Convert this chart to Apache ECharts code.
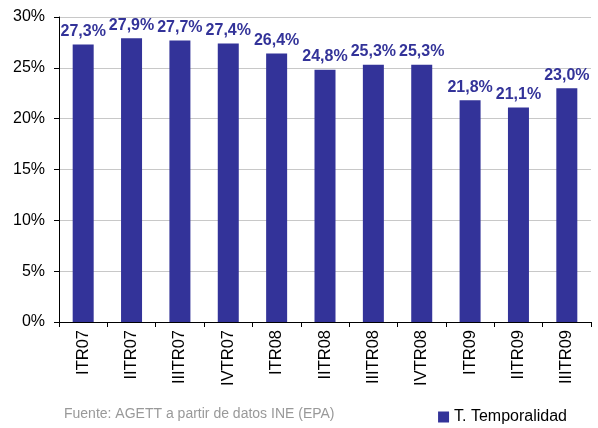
<!DOCTYPE html>
<html style="height: 100%">
<head>
    <meta charset="utf-8">
</head>
<body style="height: 100%; margin: 0; background: #fff">
<div id="container" style="width:598px;height:428px"></div>
<script type="text/javascript" src="https://cdn.jsdelivr.net/npm/echarts@6/dist/echarts.min.js"></script>
<script type="text/javascript">
    var categories = ['ITR07', 'IITR07', 'IIITR07', 'IVTR07', 'ITR08', 'IITR08', 'IIITR08', 'IVTR08', 'ITR09', 'IITR09', 'IIITR09'];
    var temporalidad = [27.3, 27.9, 27.7, 27.4, 26.4, 24.8, 25.3, 25.3, 21.8, 21.1, 23.0];
    var yTicks = [0, 5, 10, 15, 20, 25, 30];

    var dom = document.getElementById("container");
    var myChart = echarts.init(dom);
    var font = "'Liberation Sans', Arial, sans-serif";

    var option = {
        animation: false,
        textStyle: {fontFamily: font},
        grid: {left: 59, right: 7, top: 17, bottom: 106},
        legend: {
            data: [{name: 'T. Temporalidad', icon: 'rect'}],
            right: 26,
            top: 404,
            itemWidth: 11,
            itemHeight: 11,
            itemGap: 4,
            textStyle: {fontSize: 16, color: '#000', fontFamily: font}
        },
        graphic: [{
            type: 'text',
            left: 64,
            top: 407,
            style: {
                text: 'Fuente: AGETT a partir de datos INE (EPA)',
                fontSize: 14,
                fill: '#999999',
                fontFamily: font
            }
        }],
        xAxis: {
            type: 'category',
            data: categories,
            axisLine: {lineStyle: {color: '#000', width: 1}},
            axisTick: {show: true, length: 5, lineStyle: {color: '#000'}},
            axisLabel: {rotate: 90, fontSize: 16.5, color: '#000', margin: 8, fontFamily: font}
        },
        yAxis: {
            type: 'value',
            min: yTicks[0],
            max: yTicks[yTicks.length - 1],
            interval: 5,
            axisLine: {show: true, lineStyle: {color: '#000'}},
            axisTick: {show: true, length: 5, lineStyle: {color: '#000'}},
            splitLine: {lineStyle: {color: '#c8c8c8'}},
            axisLabel: {
                fontSize: 16, color: '#000', margin: 14, fontFamily: font,
                formatter: function (v) { return v + '%'; }
            }
        },
        series: [{
            name: 'T. Temporalidad',
            type: 'bar',
            data: temporalidad,
            barWidth: 21,
            itemStyle: {color: '#333399'},
            label: {
                show: true,
                position: 'top',
                distance: 5,
                fontSize: 16,
                fontWeight: 'bold',
                color: '#333399',
                fontFamily: font,
                formatter: function (p) { return p.value.toFixed(1).replace('.', ',') + '%'; }
            }
        }]
    };
    myChart.setOption(option);
</script>
</body>
</html>
